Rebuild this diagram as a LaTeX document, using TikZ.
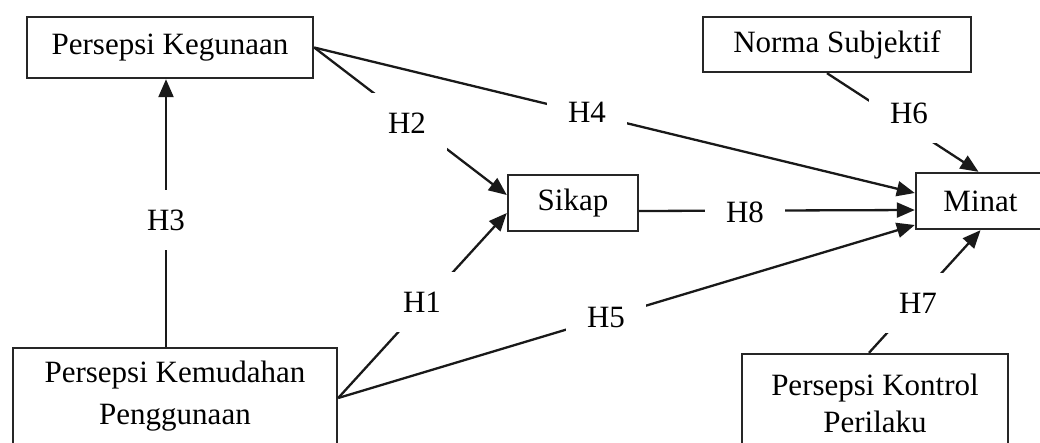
\documentclass[tikz,border=0pt]{standalone}
\usepackage{fontspec}
\setmainfont{Liberation Serif}
\usetikzlibrary{arrows.meta,calc}
\begin{document}
\begin{tikzpicture}[x=1pt,y=-1pt,
  box/.style={draw=black!85,line width=2.4pt,rectangle,inner sep=0pt,align=center,
    font=\fontsize{31}{36}\selectfont},
  hlab/.style={fill=white,inner sep=0pt,minimum width=80pt,minimum height=60pt,
    font=\fontsize{31}{36}\selectfont},
  conn/.style={line width=2.3pt,black!90},
  arr/.style={conn,-{Triangle[length=18pt,width=15pt]}}]
\useasboundingbox (0,0) rectangle (1040,442);
\fill[white] (0,0) rectangle (1040,442);
\begin{scope}
\clip (0,0) rectangle (1040,442);
% boxes
\node[box,minimum width=286pt,minimum height=61pt] (keg) at (170,47.5) {Persepsi Kegunaan};
\node[box,minimum width=268pt,minimum height=55pt] (norma) at (837,44.5) {Norma Subjektif};
\node[box,minimum width=130pt,minimum height=56pt] (sikap) at (573,203) {Sikap};
\node[box,minimum width=129pt,minimum height=56pt] (minat) at (980.5,201) {Minat};
\node[box,minimum width=324pt,minimum height=96pt,font=\fontsize{31}{42}\selectfont] (kem) at (175,396) {Persepsi Kemudahan\\Penggunaan};
\node[box,minimum width=266pt,minimum height=98pt,font=\fontsize{31}{37}\selectfont] (kon) at (875,403) {Persepsi Kontrol\\Perilaku};
% connectors
\draw[arr] ($(kem.north)+(-9,0)$) -- ($(keg.south)+(-4,0)$);
\draw[arr] (keg.east) -- ($(sikap.west)+(0,-8)$);
\draw[arr] (keg.east) -- ($(minat.west)+(0,-8)$);
\draw[arr] ($(sikap.east)+(0,8)$) -- ($(minat.west)+(0,9)$);
\draw[arr] ($(kem.east)+(0,2)$) -- ($(sikap.west)+(0,10)$);
\draw[arr] ($(kem.east)+(0,2)$) -- ($(minat.west)+(0,24)$);
\draw[arr] ($(norma.south)+(-10,0)$) -- ($(minat.north)+(-2,0)$);
\draw[arr] ($(kon.north)+(-6,0)$) -- ($(minat.south)+(0,0)$);
% labels
\node[hlab] (h2) at (407,123) {H2};
\node[hlab] (h4) at (587,112) {H4};
\node[hlab] (h6) at (909,113) {H6};
\node[hlab] (h3) at (166,220) {H3};
\node[hlab] (h8) at (745,212) {H8};
\node[hlab] (h1) at (422,302) {H1};
\node[hlab] (h5) at (606,317) {H5};
\node[hlab] (h7) at (918,303) {H7};
\end{scope}
\end{tikzpicture}
\end{document}
